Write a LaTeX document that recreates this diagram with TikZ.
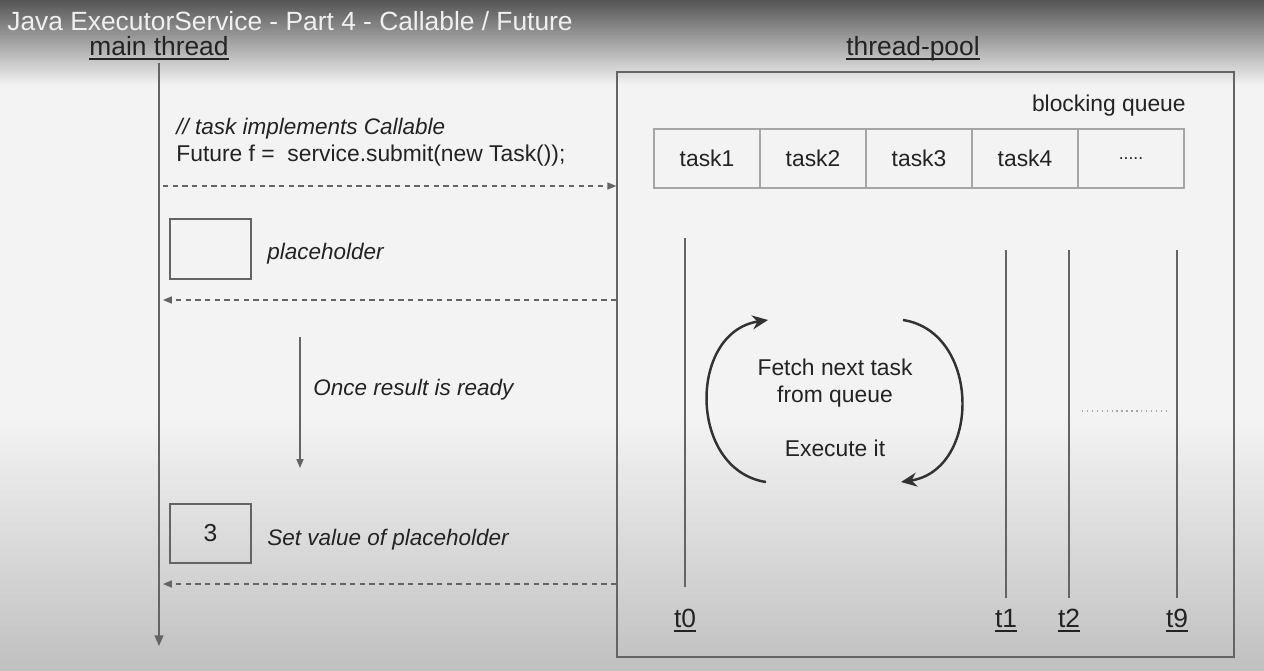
\documentclass[tikz,border=0pt]{standalone}
\usepackage{fontspec}
\setmainfont{Liberation Sans}
\usetikzlibrary{arrows.meta,calc}
\definecolor{ink}{RGB}{35,35,35}
\definecolor{linec}{RGB}{100,100,100}
\definecolor{cellc}{RGB}{165,165,165}
\definecolor{bgtop}{RGB}{85,85,85}
\definecolor{bgmid}{RGB}{243,243,243}
\definecolor{bgbot}{RGB}{192,192,192}
\definecolor{arcc}{RGB}{50,50,50}
\definecolor{titlec}{RGB}{240,240,240}
\begin{document}
\begin{tikzpicture}[x=0.02cm,y=-0.02cm,
  txt/.style={font=\fontsize{13pt}{15pt}\selectfont, text=ink, inner sep=0pt},
  itx/.style={txt, font=\fontsize{12.8pt}{15pt}\selectfont\itshape},
  head/.style={font=\fontsize{15pt}{17pt}\selectfont, text=ink, inner sep=0pt},
  ul/.style={ink, line width=1pt},
  cell/.style={txt, draw=cellc, line width=0.8pt, minimum width=2.12cm, minimum height=1.18cm},
  valbox/.style={txt, draw=linec, line width=0.8pt, minimum width=1.62cm, minimum height=1.2cm},
  thr/.style={linec, line width=0.8pt},
  dsh/.style={linec, line width=0.7pt, dash pattern=on 3pt off 2.5pt, -{Triangle[length=5pt,width=4pt]}},
  cyc/.style={arcc, line width=1.4pt, -{Stealth[length=9pt,width=8pt]}}
]
\useasboundingbox (0,0) rectangle (1264,670);
% background
\fill[bgmid] (0,0) rectangle (1264,670);
\shade[top color=bgtop, bottom color=bgmid] (0,0) rectangle (1264,85);
\shade[top color=bgmid, bottom color=bgbot] (0,420) rectangle (1264,670);

% title
\node[anchor=base west, inner sep=0pt, text=titlec, font=\fontsize{15pt}{17pt}\selectfont] (title) at (7,30) {Java ExecutorService - Part 4 - Callable / Future};

% headers
\node[head, anchor=base] (mt) at (159,55) {main thread};
\draw[ul] ($(mt.base west)+(0,4)$) -- ($(mt.base east)+(0,4)$);
\node[head, anchor=base] (tp) at (913,55) {thread-pool};
\draw[ul] ($(tp.base west)+(0,4)$) -- ($(tp.base east)+(0,4)$);

% main thread line
\coordinate (mtTop) at (159,63);
\coordinate (mtBot) at (159,646);
\draw[linec, line width=0.9pt, -{Triangle[length=6pt,width=5pt]}] (mtTop) -- (mtBot);

% thread pool box
\node[draw=linec, line width=0.9pt, minimum width=12.34cm, minimum height=11.7cm, inner sep=0pt] (pool) at (925.5,364.5) {};
\node[txt, anchor=base east] (bq) at (1186,111) {blocking queue};

% queue
\node[cell] (q1) at (707,158.5) {task1};
\node[cell] (q2) at (813,158.5) {task2};
\node[cell] (q3) at (919,158.5) {task3};
\node[cell] (q4) at (1025,158.5) {task4};
\node[cell, font=\fontsize{10pt}{12pt}\selectfont] (q5) at (1131,158.5) {.....};

% worker threads
\coordinate (t0top) at (685,238); \coordinate (t0bot) at (685,587);
\coordinate (t1top) at (1006,250); \coordinate (t1bot) at (1006,598);
\coordinate (t2top) at (1069,250); \coordinate (t2bot) at (1069,598);
\coordinate (t9top) at (1177,250); \coordinate (t9bot) at (1177,598);
\draw[thr] (t0top) -- (t0bot);
\draw[thr] (t1top) -- (t1bot);
\draw[thr] (t2top) -- (t2bot);
\draw[thr] (t9top) -- (t9bot);
\foreach \n/\x in {t0/685, t1/1006, t2/1069, t9/1177}{
  \node[head, anchor=base] (\n) at (\x,627) {\n};
  \draw[ul] ($(\n.base west)+(0,4)$) -- ($(\n.base east)+(0,4)$);
}
\coordinate (dotL) at (1082,411);
\coordinate (dotR) at (1167,411);
\draw[cellc, line width=1pt, dash pattern=on 0.8pt off 2pt] (dotL) -- (dotR);

% cycle
\coordinate (c1s) at (766,482); \coordinate (c1e) at (768,320);
\coordinate (c2s) at (903,320); \coordinate (c2e) at (901,482);
\draw[cyc] (c1s) .. controls (688,470) and (688,332) .. (c1e);
\draw[cyc] (c2s) .. controls (981,332) and (981,470) .. (c2e);
\node[txt, anchor=base] (f1) at (835,375) {Fetch next task};
\node[txt, anchor=base] (f2) at (835,402) {from queue};
\node[txt, anchor=base] (f3) at (835,456) {Execute it};

% main thread side
\node[itx, anchor=base west] (cm) at (176,134) {// task implements Callable};
\node[txt, anchor=base west] (code) at (176,161) {Future f =\ \ service.submit(new Task());};
\coordinate (s1) at (163,186);
\draw[dsh] (s1) -- (s1 -| pool.west);

\node[valbox] (ph) at (210.5,249) {};
\node[itx, anchor=base west] (phl) at (267,259) {placeholder};
\coordinate (r1) at (163,300);
\draw[dsh] (r1 -| pool.west) -- (r1);

\coordinate (w1) at (300,337);
\coordinate (w2) at (300,468);
\draw[linec, line width=0.8pt, -{Triangle[length=5pt,width=4pt]}] (w1) -- (w2);
\node[itx, anchor=base west] (once) at (313,395) {Once result is ready};

\node[valbox, minimum height=1.18cm, font=\fontsize{14pt}{16pt}\selectfont] (v3) at (210.5,533.5) {3};
\node[itx, anchor=base west] (setv) at (267,545) {Set value of placeholder};
\coordinate (r2) at (163,584);
\draw[dsh] (r2 -| pool.west) -- (r2);
\end{tikzpicture}
\end{document}
